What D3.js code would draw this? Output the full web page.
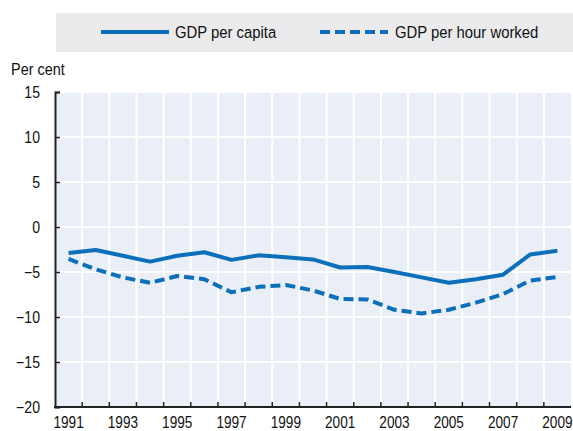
<!DOCTYPE html>
<html><head><meta charset="utf-8">
<script src="https://cdn.jsdelivr.net/npm/d3@7"></script>
<style>
body{margin:0;background:#fff;}
text{font-family:"Liberation Sans",Arial,sans-serif;fill:#111;}
</style></head><body>
<svg id="c" width="573" height="431"></svg>
<script>
const years = [1991,1992,1993,1994,1995,1996,1997,1998,1999,2000,2001,2002,2003,2004,2005,2006,2007,2008,2009];
const gdpPerCapita = [-2.9,-2.55,-3.2,-3.85,-3.2,-2.8,-3.65,-3.15,-3.35,-3.6,-4.5,-4.45,-5.0,-5.6,-6.2,-5.8,-5.3,-3.05,-2.65];
const gdpPerHour = [-3.55,-4.7,-5.6,-6.2,-5.45,-5.8,-7.25,-6.65,-6.45,-7.05,-8.0,-8.05,-9.2,-9.6,-9.2,-8.4,-7.45,-5.95,-5.55];
const yTicks = [15,10,5,0,-5,-10,-15,-20];
const xLabels = [1991,1993,1995,1997,1999,2001,2003,2005,2007,2009];
const seriesNames = ["GDP per capita","GDP per hour worked"];

const svg = d3.select("#c");
const L = 55, R = 571, T = 92, B = 407;
const blue = "#0b6fba";

const x = d3.scaleBand().domain(years).range([L, R]).padding(0);
const y = d3.scaleLinear().domain([-20, 15]).range([B, T]);

function label(sel, tx, ty, txt, fs, sx, anchor){
  return sel.append("text").attr("transform",`translate(${tx},${ty}) scale(${sx},1)`)
    .attr("font-size",fs).attr("text-anchor",anchor||"start").text(txt);
}

// legend
svg.append("rect").attr("x",56).attr("y",13).attr("width",517).attr("height",39).attr("fill","#ebebed");
const leg = [{x1:101,x2:169,tx:175,dash:null},{x1:320,x2:388,tx:395,dash:"10,5"}];
leg.forEach((d,i)=>{
  svg.append("line").attr("x1",d.x1).attr("x2",d.x2).attr("y1",32).attr("y2",32)
    .attr("stroke",blue).attr("stroke-width",4).attr("stroke-dasharray",d.dash);
  label(svg, d.tx, 38, seriesNames[i], 16.5, 0.9);
});

label(svg, 11, 74.5, "Per cent", 17, 0.85);

// plot bg
svg.append("rect").attr("x",L).attr("y",T).attr("width",R-L).attr("height",B-T).attr("fill","#e9eef7");

// grid
svg.append("g").selectAll("line").data(years.slice(1)).join("line")
  .attr("x1",d=>x(d)).attr("x2",d=>x(d)).attr("y1",T).attr("y2",B)
  .attr("stroke","#fff").attr("stroke-width",2);
svg.append("g").selectAll("line").data(yTicks.filter(v=>v>-20)).join("line")
  .attr("x1",L).attr("x2",R).attr("y1",d=>y(d)).attr("y2",d=>y(d))
  .attr("stroke","#fff").attr("stroke-width",2);

// axes
const yAxis = d3.axisLeft(y).tickValues(yTicks).tickSize(-5).tickPadding(0);
const gy = svg.append("g").attr("transform",`translate(${L},0)`).call(yAxis);
gy.select(".domain").attr("stroke","#222").attr("stroke-width",2);
gy.selectAll(".tick line").attr("stroke","#222").attr("stroke-width",1.5);
gy.selectAll(".tick text").attr("x",null).attr("dy","0.36em")
  .attr("transform",`translate(-15,0) scale(0.88,1)`)
  .attr("font-size",16).attr("font-family",'"Liberation Sans",Arial,sans-serif').attr("fill","#111");

const gx = svg.append("g").attr("transform",`translate(0,${B})`);
gx.append("line").attr("x1",L-1).attr("x2",R).attr("y1",0).attr("y2",0).attr("stroke","#222").attr("stroke-width",2);
gx.selectAll("line.t").data(years.slice(1)).join("line").attr("class","t")
  .attr("x1",d=>x(d)).attr("x2",d=>x(d)).attr("y1",0).attr("y2",-5).attr("stroke","#222").attr("stroke-width",1.5);
xLabels.forEach(d=>label(gx, x(d)+x.bandwidth()/2, 21, d, 16, 0.85, "middle"));

// lines
const line = d3.line().x((d,i)=>x(years[i])+x.bandwidth()/2).y(d=>y(d));
svg.append("path").datum(gdpPerCapita).attr("d",line).attr("fill","none")
  .attr("stroke",blue).attr("stroke-width",4).attr("stroke-linejoin","round");
svg.append("path").datum(gdpPerHour).attr("d",line).attr("fill","none")
  .attr("stroke",blue).attr("stroke-width",4).attr("stroke-dasharray","10,5").attr("stroke-linejoin","round");
</script>
</body></html>
